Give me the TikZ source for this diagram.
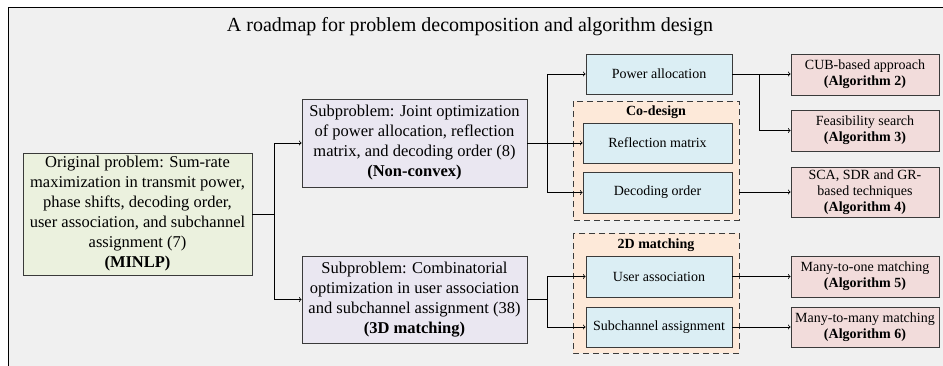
\documentclass[tikz,border=0pt]{standalone}
\usepackage{fontspec}
\setmainfont{Liberation Serif}
\usepackage{tikz}
\usetikzlibrary{calc, shapes, arrows}

\definecolor{bggray}{HTML}{F0F0F0}
\definecolor{probgreen}{HTML}{EBF1DE}
\definecolor{sublav}{HTML}{EAE7F1}
\definecolor{taskblue}{HTML}{DBEEF4}
\definecolor{algpink}{HTML}{F2DCDB}
\definecolor{grppeach}{HTML}{FDE9D9}
\definecolor{edgegray}{HTML}{3A3A3A}

\begin{document}
\begin{tikzpicture}[x=1pt,y=-1pt]
\tikzstyle{prob}=[draw=edgegray,fill=probgreen,line width=0.9pt,inner sep=0pt,align=center,font=\fontsize{16.5}{20}\selectfont]
\tikzstyle{sub}=[draw=edgegray,fill=sublav,line width=0.9pt,inner sep=0pt,align=center,font=\fontsize{16.5}{20}\selectfont]
\tikzstyle{task}=[draw=edgegray,fill=taskblue,line width=0.9pt,inner sep=0pt,minimum height=40pt,align=center,font=\fontsize{14}{16}\selectfont]
\tikzstyle{alg}=[draw=edgegray,fill=algpink,line width=0.9pt,inner sep=0pt,minimum width=148pt,minimum height=41pt,align=center,font=\fontsize{14}{16}\selectfont]
\tikzstyle{group}=[draw=edgegray,fill=grppeach,line width=0.9pt,dashed,dash pattern=on 6pt off 4pt]
\tikzstyle{grplabel}=[font=\fontsize{14}{16}\selectfont\bfseries]
\tikzstyle{link}=[->,draw=black,line width=0.8pt]
\useasboundingbox (0,0) rectangle (943,365);
\clip (0,0) rectangle (943,365);
% frame and title
\fill[bggray] (8,7) rectangle (960,380);
\draw[line width=1pt] (960,7) -- (8,7) -- (8,380);
\node[font=\fontsize{20}{24}\selectfont] (title) at (470,27) {A roadmap for problem decomposition and algorithm design};
% dashed groups
\draw[group] (573,101) rectangle (739,220);
\draw[group] (573,233) rectangle (739,353);
\coordinate (codesign) at (739,192);
\node[grplabel] (cdlabel) at (656,112) {Co-design};
\node[grplabel] (mlabel) at (656,245) {2D matching};
% problems
\node[prob,minimum width=229pt,minimum height=122pt] (orig) at (137.5,214) {Original problem: Sum-rate\\maximization in transmit power,\\phase shifts, decoding order,\\user association, and subchannel\\assignment (7)\\\textbf{(MINLP)}};
\node[sub,minimum width=225pt,minimum height=88pt] (sub1) at (414.5,143) {Subproblem: Joint optimization\\of power allocation, reflection\\matrix, and decoding order (8)\\\textbf{(Non-convex)}};
\node[sub,minimum width=225pt,minimum height=87pt] (sub2) at (414.5,299.5) {Subproblem: Combinatorial\\optimization in user association\\and subchannel assignment (38)\\\textbf{(3D matching)}};
% variables
\node[task,minimum width=146pt] (pow) at (659,74) {Power allocation};
\node[task,minimum width=149pt] (refl) at (657.5,143) {Reflection matrix};
\node[task,minimum width=149pt,minimum height=41pt] (dec) at (657.5,192.5) {Decoding order};
\node[task,minimum width=146pt,minimum height=41pt] (user) at (659,276.5) {User association};
\node[task,minimum width=146pt] (subch) at (659,327) {Subchannel assignment};
% algorithms
\node[alg] (cub) at (865,74.5) {CUB-based approach\\\textbf{(Algorithm 2)}};
\node[alg] (feas) at (865,130.5) {Feasibility search\\\textbf{(Algorithm 3)}};
\node[alg,minimum height=50pt] (sca) at (865,192) {SCA, SDR and GR-\\based techniques\\\textbf{(Algorithm 4)}};
\node[alg] (mto) at (865,276.5) {Many-to-one matching\\\textbf{(Algorithm 5)}};
\node[alg,minimum height=40pt] (mtm) at (865,327) {Many-to-many matching\\\textbf{(Algorithm 6)}};
% connectors
\coordinate (j1) at (274,214);
\coordinate (j2) at (547,143);
\coordinate (j3) at (759,74);
\coordinate (j4) at (547,299.5);
\draw[line width=0.8pt] (orig.east) -- (j1);
\draw[link] (j1) |- (sub1.west);
\draw[link] (j1) |- (sub2.west);
\draw[line width=0.8pt] (sub1.east) -- (j2);
\draw[link] (j2) |- (pow.west);
\draw[link] (j2) -- (refl.west);
\draw[link] (j2) |- (dec.west);
\draw[link] (pow.east) -- (cub.west |- pow.east);
\draw[link] (j3) |- (feas.west);
\draw[link] (codesign) -- (sca.west |- codesign);
\draw[line width=0.8pt] (sub2.east) -- (j4);
\draw[link] (j4) |- (user.west);
\draw[link] (j4) |- (subch.west);
\draw[link] (user.east) -- (mto.west);
\draw[link] (subch.east) -- (mtm.west);
\end{tikzpicture}
\end{document}
